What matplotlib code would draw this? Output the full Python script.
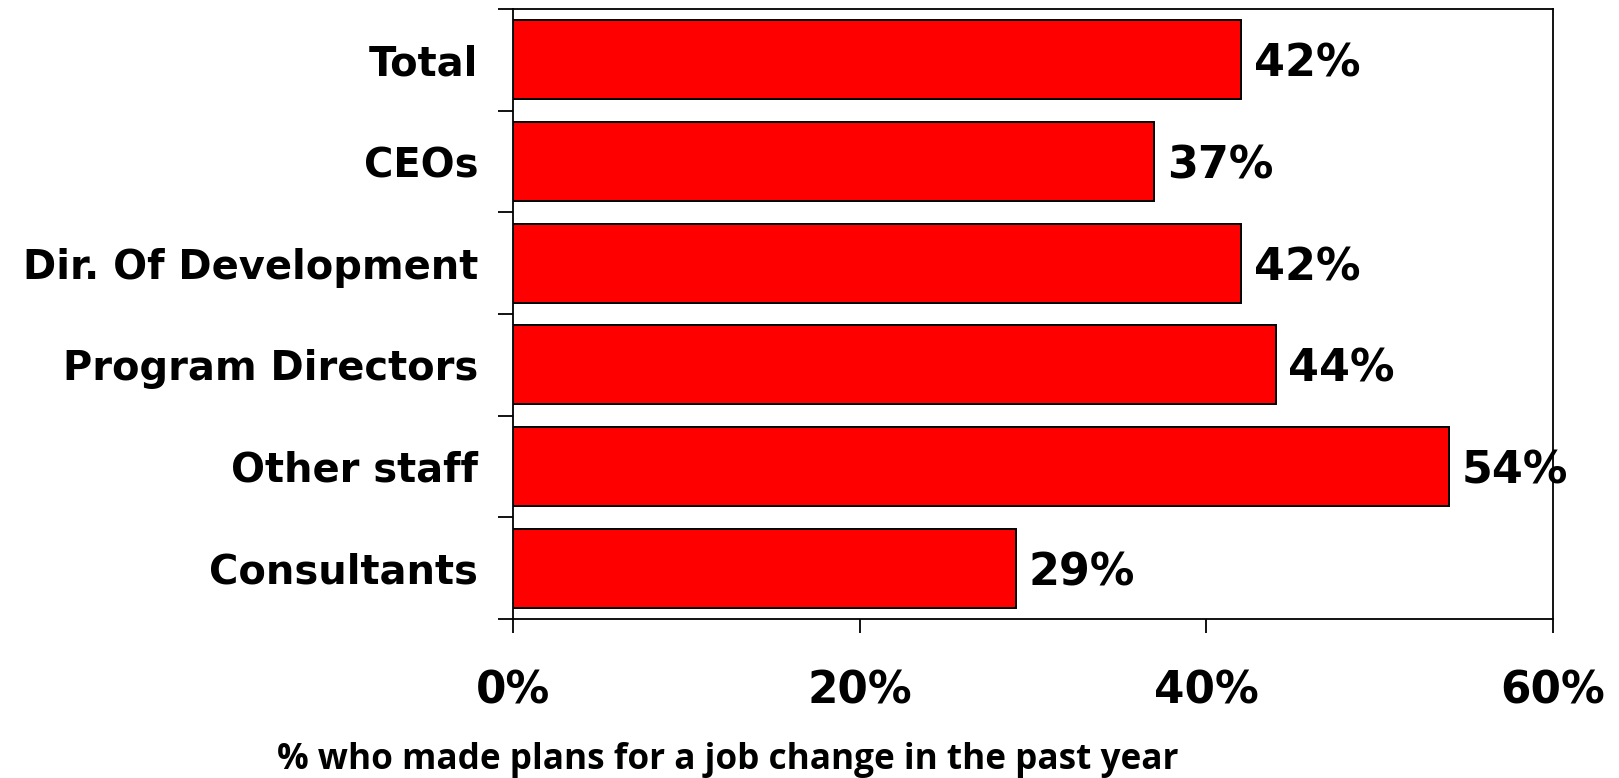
import matplotlib.pyplot as plt
import numpy as np
from matplotlib.ticker import FixedLocator, FuncFormatter

# donnees du graphique
categories = ['Total', 'CEOs', 'Dir. Of Development', 'Program Directors',
              'Other staff', 'Consultants']
valeurs = [42, 37, 42, 44, 54, 29]
xticks = [0, 20, 40, 60]
xlabel = '% who made plans for a job change in the past year'

fig = plt.figure(figsize=(16.19, 7.78), dpi=100)
ax = fig.add_axes([513/1619, 1 - 619/778, 1040/1619, 610/778])

pos = np.arange(len(categories))
ax.barh(pos, valeurs, height=0.78, color='#ff0000', edgecolor='black', linewidth=1.4)

ax.set_xlim(0, 60)
ax.set_ylim(len(categories) - 0.5, -0.5)

# graduations x
ax.xaxis.set_major_locator(FixedLocator(xticks))
ax.xaxis.set_major_formatter(FuncFormatter(lambda v, p: f'{v:.0f}%'))
ax.tick_params(axis='x', direction='out', length=10, width=1.3, pad=26,
               labelsize=31.5)
for t in ax.get_xticklabels():
    t.set_fontweight('bold')

# graduations y : traits entre les barres, noms au centre
ax.yaxis.set_major_locator(FixedLocator(np.arange(-0.5, len(categories), 1)))
ax.yaxis.set_major_formatter(FuncFormatter(lambda v, p: ''))
ax.yaxis.set_minor_locator(FixedLocator(pos))
ax.set_yticklabels(categories, minor=True)
ax.tick_params(axis='y', which='major', direction='out', length=11, width=1.3)
ax.tick_params(axis='y', which='minor', length=0, pad=25)
for t in ax.get_yticklabels(minor=True):
    t.set_fontweight('bold')
    t.set_fontsize(28.8)
    t.set_va('center_baseline')

for s in ax.spines.values():
    s.set_linewidth(1.3)

# etiquettes des valeurs
for i, v in enumerate(valeurs):
    ax.annotate(f'{v}%', (v, i), xytext=(9, 0), textcoords='offset points',
                va='center_baseline', ha='left', fontsize=32, fontweight='bold',
                annotation_clip=False)

fig.text(728/1619, 1 - 769/778, xlabel, ha='center', va='baseline',
         fontsize=25.3, fontweight='bold', family='Open Sans')

fig.savefig('out.png', dpi=100)
